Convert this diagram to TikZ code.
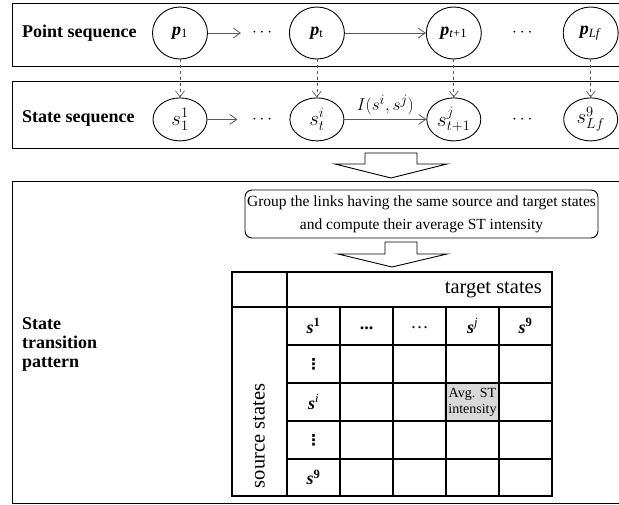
\documentclass[tikz,border=0pt]{standalone}
\usepackage{fontspec}
\setmainfont{Liberation Serif}
\newfontfamily\symfont{DejaVu Sans}
\usetikzlibrary{arrows.meta, positioning, shapes.geometric, calc}

\newcommand\bsym[1]{\textbf{\textit{#1}}}
\newcommand\vdts{{\symfont\bfseries ⋮}}

\tikzset{
  pnode/.style={draw, line width=0.9pt, ellipse, minimum width=55pt, minimum height=52pt, inner sep=0pt, font=\fontsize{18}{20}\selectfont},
  snode/.style={pnode, minimum width=54pt, minimum height=43pt, font=\fontsize{20}{22}\selectfont},
  dotsnode/.style={inner sep=0pt, font=\fontsize{18}{20}\selectfont},
  seq/.style={-{Straight Barb[length=7pt,width=10pt]}, black!65, line width=0.8pt},
  map/.style={dashed, -{Straight Barb[length=6pt,width=9pt]}, black!65, line width=0.7pt},
  lab/.style={font=\fontsize{18}{19}\selectfont\bfseries, anchor=west, align=left, inner sep=0pt},
  frame/.style={draw, line width=1pt},
  blockarrow/.style={draw, line width=0.9pt, fill=white},
  grid/.style={line width=1.5pt},
  cell/.style={inner sep=0pt, font=\fontsize{18}{20}\selectfont},
}

\begin{document}
\begin{tikzpicture}[x=1pt, y=-1pt, node distance=81pt]
\useasboundingbox (0,0) rectangle (619,504);

% Frames
\draw[frame] (12,3) rectangle (625,66);
\draw[frame] (12,81) rectangle (625,148);
\draw[frame] (12,181) rectangle (625,503);

% Row labels
\node[lab] (lp) at (22,33) {Point sequence};
\node[lab] (ls) at (22,118) {State sequence};
\node[lab] (lt) at (22,344) {State\\transition\\pattern};

% Point sequence
\node[pnode] (p1) at (180,33) {\bsym{p}\textsubscript{1}};
\node[pnode, right=of p1] (pt) {\bsym{p}\textsubscript{t}};
\node[pnode, right=of pt] (pt1) {\bsym{p}\textsubscript{\textit{t}+1}};
\node[pnode, right=of pt1] (pLf) {\bsym{p}\textsubscript{\textit{Lf}}};

% State sequence
\node[snode, below=38pt of p1] (s1) {$s_1^1$};
\node[snode, below=38pt of pt] (st) {$s_t^i$};
\node[snode, below=38pt of pt1] (st1) {$s_{t+1}^j$};
\node[snode, below=38pt of pLf] (sLf) {$s_{Lf}^9$};

\node[dotsnode] (dp1) at ($(p1)!0.6!(pt)$) {$\cdots$};
\node[dotsnode] (dp2) at ($(pt1)!0.5!(pLf)$) {$\cdots$};
\node[dotsnode] (ds1) at ($(s1)!0.6!(st)$) {$\cdots$};
\node[dotsnode] (ds2) at ($(st1)!0.5!(sLf)$) {$\cdots$};

% Links
\coordinate[right=33pt of p1] (ap1);
\coordinate[right=30pt of s1] (as1);
\draw[seq] (p1) -- (ap1);
\draw[seq] (pt) -- (pt1);
\draw[seq] (s1) -- (as1);
\draw[seq] (st) -- node[above=1pt, black, font=\fontsize{19}{21}\selectfont] (lnk) {$I(s^i, s^j)$} (st1);
\foreach \a/\b in {p1/s1, pt/st, pt1/st1, pLf/sLf}
  \draw[map] (\a) -- (\b);

% Block arrows
\draw[blockarrow] (365,153) -- (417,153) -- (417,164) -- (447,164) -- (391,178) -- (335,164) -- (365,164) -- cycle;
\node[draw, line width=0.9pt, rounded corners=7pt, minimum width=353pt, minimum height=48pt, inner sep=1pt,
      align=center, font=\fontsize{15.5}{23}\selectfont] (grp) at (421.5,214)
  {Group the links having the same source and target states\\and compute their average ST intensity};
\draw[blockarrow] (385,242) -- (417,242) -- (417,254) -- (447,254) -- (392,267) -- (338,254) -- (385,254) -- cycle;

% Transition table
\fill[black!15] (444,383) rectangle (499,421);
\draw[grid] (232,272) rectangle (552,496);
\draw[grid] (287,272) -- (287,496);
\draw[grid] (232,307) -- (552,307);
\foreach \x in {340,393,446,499}
  \draw[grid] (\x,307) -- (\x,496);
\foreach \y in {345,383,421,459}
  \draw[grid] (287,\y) -- (552,\y);

\node[cell, anchor=east, font=\fontsize{20.5}{22}\selectfont] (tgt) at (542,290) {target states};
\node[cell, rotate=90, font=\fontsize{20.5}{22}\selectfont] (src) at (259,436) {source states};

\node[cell] (c11) at (313.5,326) {\bsym{s}\textsuperscript{\textbf{1}}};
\node[cell] (c12) at (366.5,328) {\textbf{...}};
\node[cell] (c13) at (419.5,328) {\ldots};
\node[cell] (c14) at (472.5,326) {\bsym{s}\textsuperscript{\textit{j}}};
\node[cell] (c15) at (525.5,326) {\bsym{s}\textsuperscript{\textbf{9}}};
\node[cell, font=\fontsize{15}{17}\selectfont] (c21) at (313.5,364) {\vdts};
\node[cell] (c31) at (313.5,402) {\bsym{s}\textsuperscript{\textit{i}}};
\node[cell, font=\fontsize{15}{17}\selectfont] (c41) at (313.5,440) {\vdts};
\node[cell] (c51) at (313.5,477.5) {\bsym{s}\textsuperscript{\textbf{9}}};
\node[cell, align=center, font=\fontsize{14}{16}\selectfont] (avg) at (472.5,402) {Avg. ST\\intensity};

\end{tikzpicture}
\end{document}
